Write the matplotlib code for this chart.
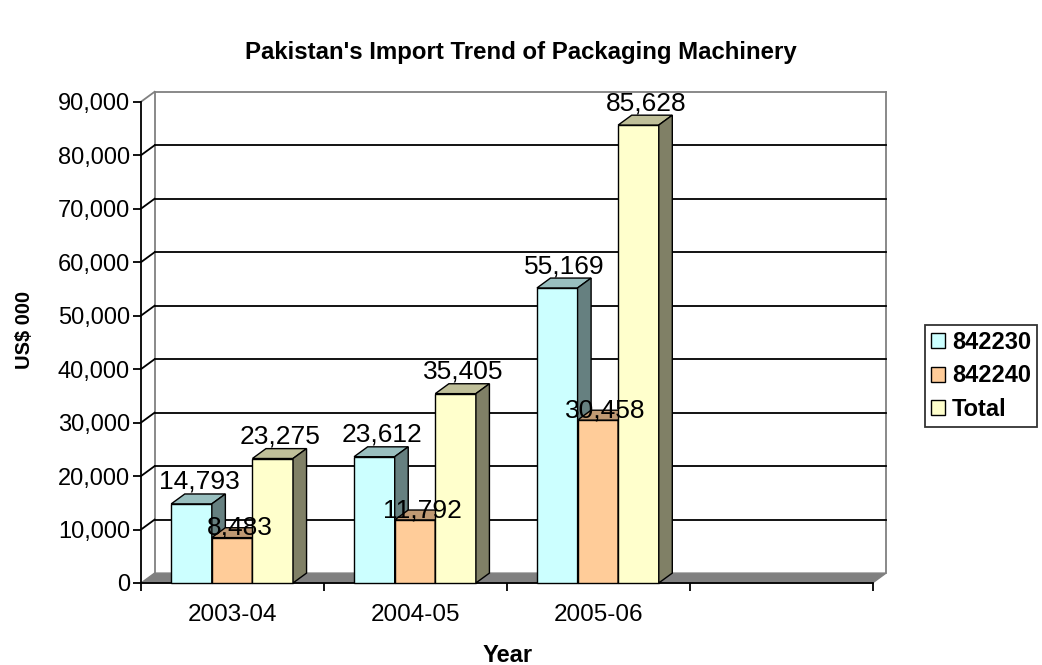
import matplotlib
matplotlib.use('Agg')
import matplotlib.pyplot as plt
from matplotlib.patches import Polygon, Patch

plt.rcParams['font.family'] = ['Liberation Sans', 'DejaVu Sans']

# --- Data ---
categories = ['2003-04', '2004-05', '2005-06', '']
series_names = ['842230', '842240', 'Total']
values_842230 = [14793, 23612, 55169]
values_842240 = [8483, 11792, 30458]
values_total = [23275, 35405, 85628]
y_ticks = [0, 10000, 20000, 30000, 40000, 50000, 60000, 70000, 80000, 90000]

series_values = [values_842230, values_842240, values_total]
front_colors = ['#CCFFFF', '#FFCC99', '#FFFFCC']
top_colors = ['#99BFBF', '#BF9973', '#BFBF99']
side_colors = ['#668080', '#80664D', '#808066']

# fake 3D depth (in data units)
DX = 0.074
DY = 1850
BAR_W = 0.222
GROUP_OFF = 0.165
YMAX = y_ticks[-1]
NCAT = len(categories)


def bar3d(ax, x0, w, h, fc, tc, sc, z):
    front = Polygon([(x0, 0), (x0 + w, 0), (x0 + w, h), (x0, h)],
                    closed=True, fc=fc, ec='black', lw=1.0, zorder=z)
    top = Polygon([(x0, h), (x0 + w, h), (x0 + w + DX, h + DY), (x0 + DX, h + DY)],
                  closed=True, fc=tc, ec='black', lw=1.0, zorder=z)
    side = Polygon([(x0 + w, 0), (x0 + w + DX, DY), (x0 + w + DX, h + DY), (x0 + w, h)],
                   closed=True, fc=sc, ec='black', lw=1.0, zorder=z)
    for p in (front, top, side):
        ax.add_patch(p)


fig = plt.figure(figsize=(10.42, 6.65), dpi=100)
ax = fig.add_axes([0.1266, 0.1153, 0.7371, 0.7559])
ax.set_xlim(-0.05, 4.15)
ax.set_ylim(-1000, 93000)
ax.patch.set_visible(False)

# floor
ax.add_patch(Polygon([(0, 0), (NCAT, 0), (NCAT + DX, DY), (DX, DY)],
                     closed=True, fc='#808080', ec='#808080', lw=1.0, zorder=1))

# back wall gridlines and side-wall diagonals
for v in y_ticks[1:]:
    col = '#808080' if v == YMAX else 'black'
    ax.plot([DX, NCAT + DX], [v + DY, v + DY], color=col, lw=1.3, zorder=1.5)
    ax.plot([0, DX], [v, v + DY], color=col, lw=1.3, zorder=1.5)
# wall outline
ax.plot([DX, DX], [DY, YMAX + DY], color='#808080', lw=1.3, zorder=1.4)
ax.plot([NCAT + DX, NCAT + DX], [DY, YMAX + DY], color='#808080', lw=1.3, zorder=1.4)

# bars
z = 3
for c in range(len(values_total)):
    for i, vals in enumerate(series_values):
        x0 = c + GROUP_OFF + i * BAR_W
        bar3d(ax, x0, BAR_W, vals[c], front_colors[i], top_colors[i], side_colors[i], z)
        z += 0.1

# data labels
for c in range(len(values_total)):
    for i, vals in enumerate(series_values):
        xc = c + GROUP_OFF + (i + 0.5) * BAR_W + DX * 0.55
        if i == 1:
            ax.text(xc, vals[c] + DY, f'{vals[c]:,}', ha='center', va='center',
                    fontsize=19, zorder=20)
        else:
            ax.annotate(f'{vals[c]:,}', (xc, vals[c] + DY), xytext=(0, 0),
                        textcoords='offset points', ha='center', va='bottom',
                        fontsize=19, zorder=20)

# axes
for s in ['top', 'right']:
    ax.spines[s].set_visible(False)
ax.spines['left'].set_position(('data', 0))
ax.spines['left'].set_bounds(0, YMAX)
ax.spines['bottom'].set_position(('data', 0))
ax.spines['bottom'].set_bounds(0, NCAT)
for s in ['left', 'bottom']:
    ax.spines[s].set_linewidth(1.3)
    ax.spines[s].set_zorder(2)

ax.set_yticks(y_ticks)
ax.set_yticklabels([f'{v:,}' for v in y_ticks])
ax.tick_params(axis='y', direction='out', length=6, width=1.3, labelsize=17, pad=2)

ax.set_xticks(range(NCAT + 1))
ax.set_xticklabels([])
ax.set_xticks([c + 0.5 for c in range(NCAT)], minor=True)
ax.set_xticklabels(categories, minor=True)
ax.tick_params(axis='x', which='major', direction='out', length=6, width=1.3)
ax.tick_params(axis='x', which='minor', length=0, labelsize=17.5, pad=15)

fig.text(0.5, 1 - 52 / 665, "Pakistan's Import Trend of Packaging Machinery",
         ha='center', va='center', fontsize=17.3, fontweight='bold')
fig.text(508 / 1042, 1 - 655 / 665, 'Year', ha='center', va='center',
         fontsize=17, fontweight='bold')
fig.text(25 / 1042, 1 - 330 / 665, 'US$ 000', ha='center', va='center',
         rotation=90, fontsize=14.5, fontweight='bold')

handles = [Patch(fc=front_colors[i], ec='black', lw=1.0) for i in range(3)]
leg = fig.legend(handles, series_names, loc='center left',
                 bbox_to_anchor=(925 / 1042, 1 - 376 / 665),
                 prop={'weight': 'bold', 'size': 17}, frameon=True, fancybox=False,
                 handlelength=0.6, handleheight=0.6, handletextpad=0.3,
                 borderpad=0.25, labelspacing=0.45, borderaxespad=0)
leg.get_frame().set_edgecolor('black')
leg.get_frame().set_linewidth(1.3)

fig.savefig('out.png', dpi=100)
